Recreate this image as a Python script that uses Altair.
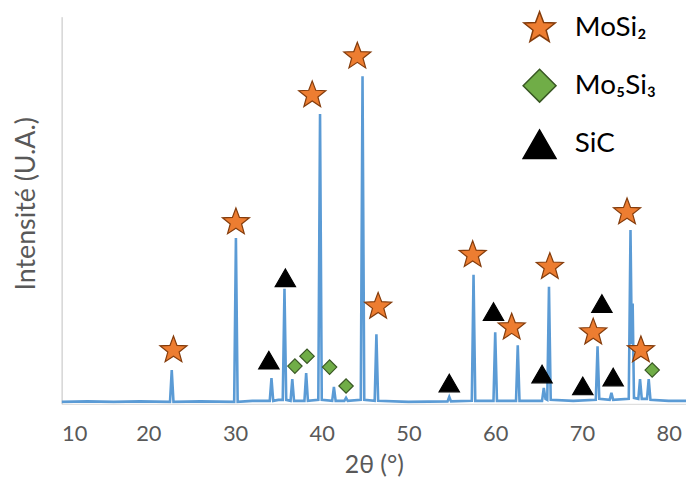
import altair as alt
import pandas as pd

# XRD pattern (2θ in degrees, intensity in arbitrary units)
two_theta = [10.0, 13.0, 16.0, 19.0, 22.5, 22.7, 22.9, 26.0, 29.9, 30.1, 30.3, 32.0,
             34.0, 34.2, 34.4, 35.0, 35.5, 35.7, 35.9, 36.4, 36.6, 36.8, 38.0, 38.2, 38.4,
             39.6, 39.8, 40.0, 41.2, 41.4, 41.6, 42.6, 42.8, 43.0, 44.5, 44.7, 44.9,
             46.1, 46.3, 46.5, 50.0, 54.5, 54.7, 54.9, 57.3, 57.5, 57.7, 59.8, 60.0, 60.2,
             62.4, 62.6, 62.8, 65.4, 65.6, 65.8, 66.0, 66.2, 66.4, 69.0, 71.6, 71.8, 72.0,
             73.2, 73.4, 73.6, 75.4, 75.6, 75.75, 75.85, 76.0, 76.5, 76.7, 76.9,
             77.5, 77.7, 77.9, 80.0, 82.0]
intensity = [2, 2.5, 2, 2.5, 2, 34, 2, 2.5, 2, 167, 2, 3,
             3, 26, 3, 4, 4, 116, 4, 3, 25, 3, 3, 31, 3,
             4, 292, 4, 3, 17, 3, 3, 6, 3, 4, 330, 4,
             3, 70, 3, 2, 2.5, 7, 2.5, 3, 130, 3, 3, 72, 3,
             3, 59, 3, 3, 16, 5, 4, 118, 4, 3, 4, 58, 5,
             4, 11, 4, 5, 175, 60, 101, 6, 5, 25, 5,
             5, 25, 4, 3, 3]

# Phase markers
phases = ["MoSi₂", "Mo₅Si₃", "SiC"]
mosi2_x = [22.9, 30.1, 38.9, 44.1, 46.5, 57.4, 61.9, 66.3, 71.3, 75.2, 76.8]
mosi2_y = [54, 183, 311, 350, 98, 150, 77, 138, 72, 193, 54]
mo5si3_x = [36.9, 38.3, 40.9, 42.8, 78.1]
mo5si3_y = [38, 48, 37, 18, 34]
sic_x = [33.9, 35.8, 54.7, 59.8, 65.4, 70.1, 72.3, 73.6]
sic_y = [44, 127, 21, 93, 30, 18, 101, 27]

line_df = pd.DataFrame({"tt": two_theta, "I": intensity})
mk = pd.DataFrame({
    "tt": mosi2_x + mo5si3_x + sic_x,
    "I": mosi2_y + mo5si3_y + sic_y,
    "phase": [phases[0]] * len(mosi2_x) + [phases[1]] * len(mo5si3_x) + [phases[2]] * len(sic_x),
})
MARK_SIZE = {phases[0]: 820, phases[1]: 210, phases[2]: 420}
mk["sz"] = mk["phase"].map(MARK_SIZE)

STAR = "M0,-1L0.247,-0.34L0.951,-0.309L0.399,0.13L0.588,0.809L0,0.42L-0.588,0.809L-0.399,0.13L-0.951,-0.309L-0.247,-0.34Z"
FONT = "Lato"
GREY = "#595959"

xscale = alt.Scale(domain=[10, 82], nice=False, zero=False)
yscale = alt.Scale(domain=[0, 390], nice=False)

line = alt.Chart(line_df).mark_line(color="#5B9BD5", strokeWidth=2.6, clip=True).encode(
    x=alt.X("tt:Q", scale=xscale,
            axis=alt.Axis(title="2θ (°)", values=[10, 20, 30, 40, 50, 60, 70, 80],
                          grid=False, ticks=False, tickSize=0, labelPadding=20,
                          titlePadding=8, titleFontSize=25, domainColor="#d9d9d9")),
    y=alt.Y("I:Q", scale=yscale,
            axis=alt.Axis(title="Intensité (U.A.)", labels=False, ticks=False, tickSize=0,
                          grid=False, domainColor="#bfbfbf", titlePadding=21, titleY=188)),
)

legend = alt.Legend(title=None, orient="none", legendX=464, legendY=-6, symbolSize=1100,
                    labelFontSize=28, labelFont=FONT, labelColor="#000000", rowPadding=21,
                    labelOffset=18, padding=0, symbolStrokeWidth=1.5)

points = alt.Chart(mk).mark_point(filled=True, opacity=1, strokeWidth=1.2).encode(
    x=alt.X("tt:Q", scale=xscale),
    y=alt.Y("I:Q", scale=yscale),
    shape=alt.Shape("phase:N", scale=alt.Scale(domain=phases, range=[STAR, "diamond", "triangle-up"]),
                    legend=legend),
    color=alt.Color("phase:N", scale=alt.Scale(domain=phases, range=["#ED7D31", "#70AD47", "#000000"]),
                    legend=legend),
    stroke=alt.Stroke("phase:N", scale=alt.Scale(domain=phases, range=["#843C0C", "#385723", "#000000"]),
                      legend=legend),
    size=alt.Size("sz:Q", scale=None, legend=None),
)

chart = alt.layer(line, points).properties(
    width=629, height=390,
    autosize=alt.AutoSizeParams(type="none"),
    padding={"left": 54, "top": 7, "right": 0, "bottom": 78},
).configure_view(stroke=None).configure_axis(
    labelFont=FONT, titleFont=FONT, labelFontSize=22, titleFontSize=27,
    labelColor=GREY, titleColor=GREY, titleFontWeight="normal",
)

chart.save("out.html", embed_options={"renderer": "svg", "actions": False})
